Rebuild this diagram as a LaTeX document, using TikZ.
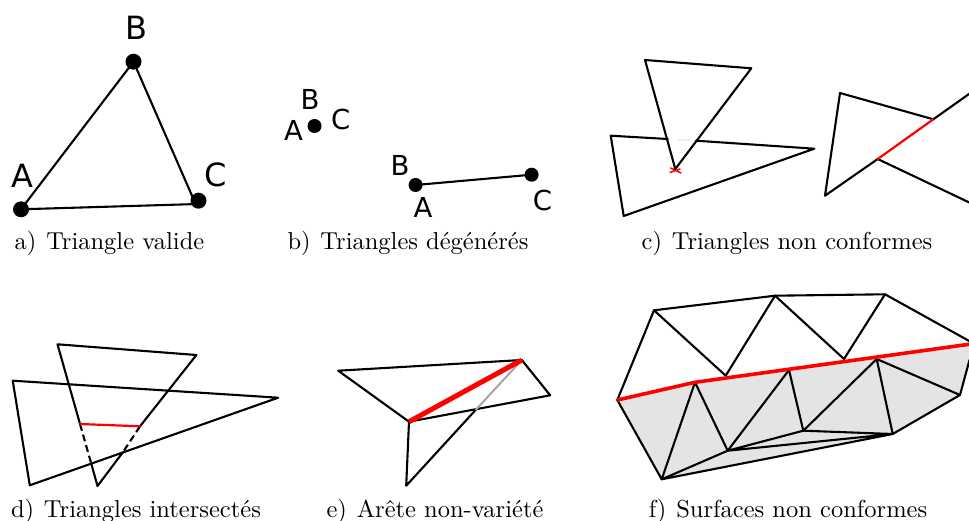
\documentclass[tikz,border=0pt]{standalone}
\usepackage{fontspec}
\newfontfamily\dejavu{DejaVu Sans}
\definecolor{meshgray}{gray}{0.895}
\definecolor{redline}{RGB}{255,0,0}
\tikzset{
  edge/.style={draw=black,line width=2.1pt,line join=round,line cap=round},
  redge/.style={draw=redline,line width=2.2pt,line cap=round},
  vertexbig/.style={circle,fill=black,inner sep=0pt,minimum size=16pt},
  vertexsmall/.style={circle,fill=black,inner sep=0pt,minimum size=14pt},
  letterbig/.style={font=\dejavu\fontsize{32}{34}\selectfont,inner sep=0pt},
  lettersmall/.style={font=\dejavu\fontsize{27.5}{29}\selectfont,inner sep=0pt},
  caption/.style={font=\fontsize{10}{12}\selectfont,scale=2.45,inner sep=0pt,anchor=base}
}
\begin{document}
\begin{tikzpicture}[x=1pt,y=-1pt]
\useasboundingbox (0,0) rectangle (969,521);
% a
\node[vertexbig] (aA) at (21,209.3) {};
\node[vertexbig] (aB) at (133.5,61.7) {};
\node[vertexbig] (aC) at (198.5,200.7) {};
\coordinate (aCl) at (198,204);
\coordinate (aCu) at (193,198);
\draw[edge] (aA.center) -- (aB.center) -- (aCu);
\draw[edge] (aA.center) -- (aCl);
\node[letterbig] (laA) at (22.5,175.7) {A};
\node[letterbig] (laB) at (136,28) {B};
\node[letterbig] (laC) at (215.6,175) {C};
\node[caption] (capa) at (109.5,250) {a)\hspace{0.4em}Triangle valide};
% b
\node[vertexsmall] (bP) at (314.5,126) {};
\node[lettersmall] (lbB1) at (310,99.3) {B};
\node[lettersmall] (lbA1) at (293.5,130.7) {A};
\node[lettersmall] (lbC1) at (340.7,119.3) {C};
\node[vertexsmall] (bA) at (415.6,185) {};
\node[vertexsmall] (bC) at (531.6,174.7) {};
\draw[edge] (bA.center) -- (bC.center);
\node[lettersmall] (lbB2) at (400,165) {B};
\node[lettersmall] (lbA2) at (423,207.3) {A};
\node[lettersmall] (lbC2) at (542.5,200) {C};
\node[caption] (capb) at (408,250) {b)\hspace{0.4em}Triangles dégénérés};
% c
\coordinate (c1) at (645,60);
\coordinate (c2) at (751.3,68.3);
\coordinate (c3) at (675.3,169);
\coordinate (c4) at (610.7,135.7);
\coordinate (c5) at (814.3,148.7);
\coordinate (c6) at (623.7,216);
\coordinate (c7) at (667.7,139);
\coordinate (c8) at (696,140.7);
\draw[edge] (c7) -- (c4) -- (c6) -- (c5) -- (c8);
\draw[gray!25,line width=1pt] (678,139.7) -- (690,140.2);
\draw[redge,line width=1.5pt] (670.5,168) -- (681,173) (670,172.5) -- (680,169);
\draw[edge] (c1) -- (c2) -- (c3) -- cycle;
\coordinate (s1) at (840,93);
\coordinate (s2) at (933.3,119.3);
\coordinate (s3) at (825,195.7);
\coordinate (s4) at (877.7,159);
\coordinate (s5) at (971,92.6);
\coordinate (s6) at (971,203.3);
\draw[edge] (s2) -- (s1) -- (s3) -- (s4);
\draw[edge] (s2) -- (s5);
\draw[edge] (s4) -- (s6);
\draw[redge] (s4) -- (s2);
\node[caption] (capc) at (787,250) {c)\hspace{0.4em}Triangles non conformes};
% d
\coordinate (d1) at (57.5,344.3);
\coordinate (d2) at (196.4,355);
\coordinate (d3) at (97.5,486);
\coordinate (d4) at (12.7,380.7);
\coordinate (d5) at (278.2,397.7);
\coordinate (d6) at (29.8,485.3);
\coordinate (dr1) at (80,424);
\coordinate (dr2) at (140,426.3);
\coordinate (dx1) at (91.2,463.5);
\coordinate (dx2) at (122.7,452.5);
\draw[edge] (d4) -- (d5) -- (d6) -- cycle;
\draw[edge] (dr1) -- (d1) -- (d2) -- (dr2);
\draw[edge,line cap=butt,dash pattern=on 7pt off 4pt] (dr1) -- (dx1);
\draw[edge,line cap=butt,dash pattern=on 7pt off 4pt] (dr2) -- (dx2);
\draw[edge] (dx1) -- (d3) -- (dx2);
\draw[redge] (dr1) -- (dr2);
\node[caption] (capd) at (136,517) {d)\hspace{0.4em}Triangles intersectés};
% e
\coordinate (e1) at (338.2,370.7);
\coordinate (e2) at (521.8,360);
\coordinate (e3) at (550.2,395.3);
\coordinate (e4) at (409,421.7);
\coordinate (e5) at (406.2,485.7);
\coordinate (e6) at (475.6,410);
\draw[edge] (e4) -- (e1) -- (e2) -- (e3) -- (e4) -- (e5) -- (e6);
\draw[draw=gray!70,line width=2pt] (e6) -- (e2);
\draw[redge,line width=5pt,line cap=butt] (e4) -- (e2);
\node[caption] (cape) at (435,517) {e)\hspace{0.4em}Arête non-variété};
% f
\coordinate (f0) at (617.3,400);
\coordinate (f1) at (654,310.3);
\coordinate (f2) at (775,295.7);
\coordinate (f3) at (885,294.3);
\coordinate (f4) at (971,342);
\coordinate (f5) at (725.7,375.7);
\coordinate (f6) at (844,359);
\coordinate (f7) at (695,382.3);
\coordinate (f8) at (789,370);
\coordinate (f9) at (876.7,359);
\coordinate (f10) at (960,395);
\coordinate (f11) at (892.7,434);
\coordinate (f12) at (803.3,430.7);
\coordinate (f13) at (727.7,450.7);
\coordinate (f14) at (661.7,479.3);
\coordinate (f15) at (971,344);
\coordinate (f16) at (969.5,360);
\fill[meshgray] (f0) -- (f7) -- (f15) -- (f16) -- (f10) -- (f11) -- (f14) -- cycle;
\draw[edge] (f0) -- (f1) -- (f2) -- (f3) -- (f4);
\draw[edge] (f1) -- (f5) -- (f2) -- (f6) -- (f3);
\draw[edge] (f0) -- (f14) -- (f7) -- (f13) -- (f8) -- (f12) -- (f9) -- (f11) -- (f10) -- (f9);
\draw[edge] (f10) -- (f16);
\draw[edge] (f11) -- (f12) -- (f13) -- (f11) -- (f14) -- (f13);
\draw[redge,line width=3.6pt,line cap=butt] (f0) -- (f7) -- (f15);
\node[caption] (capf) at (788,517) {f)\hspace{0.4em}Surfaces non conformes};
\end{tikzpicture}
\end{document}
